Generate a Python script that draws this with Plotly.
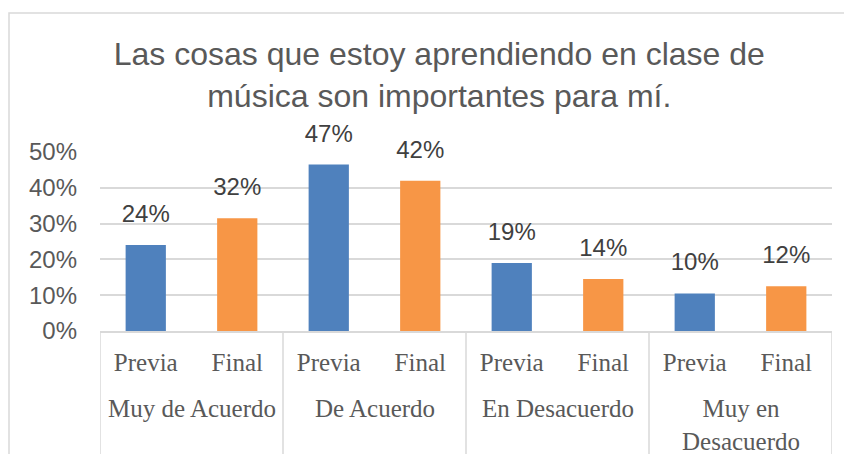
import plotly.graph_objects as go

groups = ["Muy de Acuerdo", "De Acuerdo", "En Desacuerdo", "Muy en<br>Desacuerdo"]
subs = ["Previa", "Final"]
previa_vals = [0.24, 0.465, 0.19, 0.105]
final_vals = [0.315, 0.42, 0.145, 0.125]
previa_labels = ["24%", "47%", "19%", "10%"]
final_labels = ["32%", "42%", "14%", "12%"]
yticks = [0, 0.1, 0.2, 0.3, 0.4, 0.5]
ytick_text = ["0%", "10%", "20%", "30%", "40%", "50%"]

BLUE = "#4F81BD"
ORANGE = "#F79646"
GRID = "#D9D9D9"
TXT = "#595959"

# unique category keys, ordered group by group
keys_prev = [f"{g} | {subs[0]}" for g in groups]
keys_fin = [f"{g} | {subs[1]}" for g in groups]
cat_order = [k for pair in zip(keys_prev, keys_fin) for k in pair]
cat_text = [subs[0], subs[1]] * len(groups)

# page body has an 8px margin; figure sits at (8, 8)
W, H = 844, 446
L, R, T, B = 92, 20, 144, 123
PH = H - T - B
PW = W - L - R

fig = go.Figure()
fig.add_trace(go.Bar(x=keys_prev, y=previa_vals, marker=dict(color=BLUE, line=dict(width=0)),
                     width=0.44, name=subs[0], showlegend=False))
fig.add_trace(go.Bar(x=keys_fin, y=final_vals, marker=dict(color=ORANGE, line=dict(width=0)),
                     width=0.44, name=subs[1], showlegend=False))

lab_font = dict(family="Liberation Sans, Arial, sans-serif", size=24, color="#404040")
for xs, ys, tx in [(keys_prev, previa_vals, previa_labels), (keys_fin, final_vals, final_labels)]:
    fig.add_trace(go.Scatter(x=xs, y=ys, mode="markers+text", text=tx,
                             textposition="top center", textfont=lab_font,
                             marker=dict(size=25.6, opacity=0), cliponaxis=False,
                             showlegend=False, hoverinfo="skip"))

serif = "Liberation Serif, Cambria, serif"
annotations = []
shapes = []
n_sub = len(subs)
for i, g in enumerate(groups):
    center = i * n_sub + (n_sub - 1) / 2
    annotations.append(dict(x=center, xref="x", y=-0.346, yref="paper", yanchor="top",
                            text=g, showarrow=False,
                            font=dict(family=serif, size=25, color=TXT)))
for j in range(len(groups) + 1):
    xb = j * n_sub - 0.5
    shapes.append(dict(type="line", xref="x", yref="paper", x0=xb, x1=xb,
                       y0=0, y1=-(H - (T + PH)) / PH, line=dict(color=GRID, width=1.5)))
# chart-area border
shapes.append(dict(type="rect", xref="paper", yref="paper",
                   x0=(1 - L) / PW, x1=1.3, y0=-1.5, y1=(T + PH - 5) / PH,
                   line=dict(color=GRID, width=1.5), fillcolor="rgba(0,0,0,0)", layer="below"))

fig.update_layout(
    width=W, height=H,
    margin=dict(l=L, r=R, t=T, b=B, autoexpand=False),
    paper_bgcolor="white", plot_bgcolor="white",
    barmode="overlay",
    title=dict(text="Las cosas que estoy aprendiendo en clase de<br>música son importantes para mí.",
               x=0.511, xanchor="center", y=0.872, yanchor="top",
               font=dict(family="Liberation Sans, Arial, sans-serif", size=32, color=TXT)),
    font=dict(family="Liberation Sans, Arial, sans-serif", color=TXT),
    xaxis=dict(type="category", categoryorder="array", categoryarray=cat_order,
               tickvals=cat_order, ticktext=cat_text, range=[-0.5, len(cat_order) - 0.5],
               showline=True, linecolor=GRID, linewidth=1.5,
               ticks="", showgrid=False, ticklabelstandoff=8,
               tickfont=dict(family=serif, size=25, color=TXT)),
    yaxis=dict(range=[0, 0.5], tickvals=yticks, ticktext=ytick_text,
               showgrid=True, gridcolor=GRID, gridwidth=1.5, zeroline=False,
               ticks="", ticklabelstandoff=22,
               tickfont=dict(family="Liberation Sans, Arial, sans-serif", size=24, color=TXT)),
    annotations=annotations,
    shapes=shapes,
)

fig.write_html("out.html")
